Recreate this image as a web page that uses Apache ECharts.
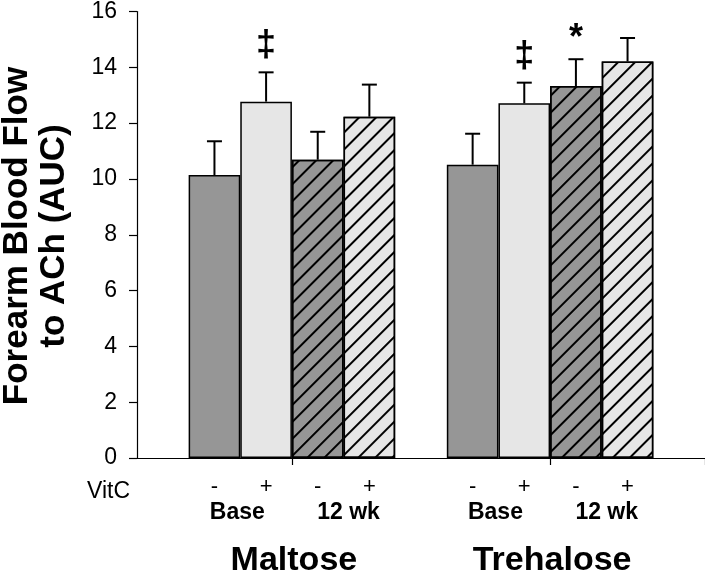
<!DOCTYPE html>
<html>
<head>
<meta charset="utf-8">
<script src="https://cdn.jsdelivr.net/npm/echarts@6/dist/echarts.min.js"></script>
<style>html,body{margin:0;padding:0;background:#fff}#c{width:705px;height:576px}</style>
</head>
<body>
<div id="c"></div>
<script>
// ---- data ----
var categories = ['gapL', 'Maltose Base -', 'Maltose Base +', 'Maltose 12wk -', 'Maltose 12wk +', 'gapM', 'Trehalose Base -', 'Trehalose Base +', 'Trehalose 12wk -', 'Trehalose 12wk +', 'gapR'];
var vitcLabels = ['', '-', '+', '-', '+', '', '-', '+', '-', '+', ''];
var means = [null, 10.14, 12.77, 10.69, 12.23, null, 10.51, 12.71, 13.33, 14.21, null];
var sems  = [null, 1.21, 1.05, 1.00, 1.15, null, 1.11, 0.74, 0.96, 0.84, null];
var notes = ['', '', '\u2021', '', '', '', '', '\u2021', '*', '', ''];
var fillKind = [null, 'dark', 'light', 'darkHatch', 'lightHatch', null, 'dark', 'light', 'darkHatch', 'lightHatch', null];
var timeLabels = ['Base', '12 wk', 'Base', '12 wk'];
var timeLeftIdx = [1, 3, 6, 8];
var groupNames = ['Maltose', 'Trehalose'];
var groupLeftIdx = [2, 7];
var yTicks = [0, 2, 4, 6, 8, 10, 12, 14, 16];
var yTitle = 'Forearm Blood Flow\nto ACh (AUC)';

var FONT = '"Liberation Sans", Arial, sans-serif';
var DARK = '#969696', LIGHT = '#e6e6e6';
var hatch = {symbol: 'rect', symbolSize: 1, dashArrayX: [1, 0], dashArrayY: [1.4, 9.2], rotation: -Math.PI / 4, color: '#000'};

var barData = means.map(function (m, i) {
  if (m == null) return {value: null};
  var k = fillKind[i];
  var st = {color: (k === 'dark' || k === 'darkHatch') ? DARK : LIGHT};
  if (k === 'darkHatch' || k === 'lightHatch') st.decal = hatch;
  return {value: m, itemStyle: st};
});
var errData = [];
means.forEach(function (m, i) { if (m != null) errData.push([i, m, sems[i], notes[i]]); });

var chart = echarts.init(document.getElementById('c'), null, {renderer: 'canvas'});
chart.setOption({
  animation: false,
  backgroundColor: '#fff',
  grid: {left: 137, right: 0, top: 10, bottom: 118, containLabel: false},
  xAxis: {
    type: 'category', data: categories, boundaryGap: true,
    axisLine: {lineStyle: {color: '#000', width: 1.2}},
    axisTick: {show: true, length: 7, lineStyle: {color: '#000', width: 1.2},
      interval: function (i) { return i === groupLeftIdx[0] + 1 || i === groupLeftIdx[1] + 1; }},
    axisLabel: {interval: 0, margin: 18, fontSize: 22, color: '#000', fontFamily: FONT,
      formatter: function (v, i) { return vitcLabels[i]; }},
    splitLine: {show: false}
  },
  yAxis: {
    type: 'value', min: yTicks[0], max: yTicks[yTicks.length - 1], interval: 2,
    axisLine: {show: true, lineStyle: {color: '#000', width: 1.2}},
    axisTick: {show: true, inside: false, length: 8, lineStyle: {color: '#000', width: 1.2}},
    axisLabel: {margin: 20, fontSize: 23, color: '#000', fontFamily: FONT},
    splitLine: {show: false}
  },
  graphic: [
    {type: 'text', x: 36, y: 236, rotation: Math.PI / 2,
     style: {text: yTitle, font: 'bold 35px ' + FONT, fill: '#000', align: 'center', verticalAlign: 'middle', lineHeight: 37}},
    {type: 'text', x: 130, y: 492,
     style: {text: 'VitC', font: '23px ' + FONT, fill: '#000', align: 'right', verticalAlign: 'middle'}}
  ],
  series: [
    {type: 'bar', data: barData, barWidth: '100%', barGap: '0%',
     itemStyle: {borderColor: '#000', borderWidth: 1.5}},
    {type: 'custom', data: errData, z: 5,
     renderItem: function (params, api) {
       var x = api.value(0), m = api.value(1), e = api.value(2);
       var note = errData[params.dataIndex][3];
       var base = api.coord([x, m]), top = api.coord([x, m + e]);
       var hw = 7.5;
       var ch = [
         {type: 'line', shape: {x1: top[0], y1: base[1], x2: top[0], y2: top[1]}, style: {stroke: '#000', lineWidth: 2}},
         {type: 'line', shape: {x1: top[0] - hw, y1: top[1], x2: top[0] + hw, y2: top[1]}, style: {stroke: '#000', lineWidth: 2}}
       ];
       if (note) {
         var star = note === '*';
         ch.push({type: 'text', x: top[0], y: top[1] - (star ? 2 : 8),
           style: {text: note, font: 'bold ' + (star ? 36 : 36) + 'px ' + FONT, fill: '#000', align: 'center', verticalAlign: 'bottom'}});
       }
       return {type: 'group', children: ch};
     }},
    {type: 'custom', data: timeLeftIdx.map(function (v, i) { return [v, i]; }), z: 5,
     renderItem: function (params, api) {
       var idx = api.value(0), k = params.dataIndex;
       var p = api.coord([idx, 0]), w = api.size([1, 0])[0];
       var off = timeLabels[k] === 'Base' ? -3 : 5;
       return {type: 'text', x: p[0] + w / 2 + off, y: p[1] + 55,
         style: {text: timeLabels[k], font: 'bold 23px ' + FONT, fill: '#000', align: 'center', verticalAlign: 'middle'}};
     }},
    {type: 'custom', data: groupLeftIdx.map(function (v, i) { return [v, i]; }), z: 5,
     renderItem: function (params, api) {
       var idx = api.value(0), k = params.dataIndex;
       var p = api.coord([idx, 0]), w = api.size([1, 0])[0];
       return {type: 'text', x: p[0] + w / 2 + 2, y: p[1] + 103,
         style: {text: groupNames[k], font: 'bold 34px ' + FONT, fill: '#000', align: 'center', verticalAlign: 'middle'}};
     }}
  ]
});
</script>
</body>
</html>
